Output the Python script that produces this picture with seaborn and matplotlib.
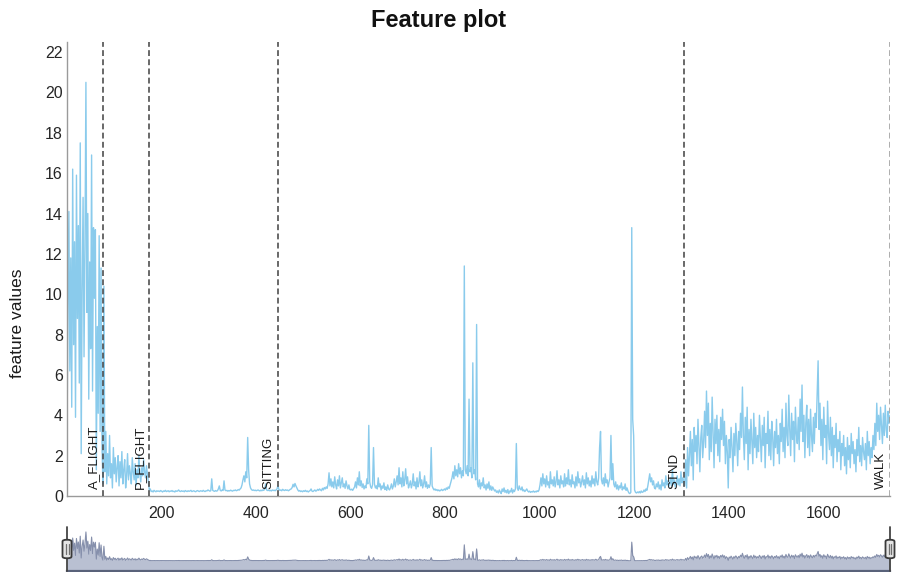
import numpy as np
import pandas as pd
import matplotlib
matplotlib.use("Agg")
import matplotlib.pyplot as plt
from matplotlib.patches import FancyBboxPatch
import seaborn as sns

# Feature values per behaviour segment (one value every second sample)
a_flight = [2.8, 9.5, 14.1, 6.2, 11.8, 4.4, 16.2, 7.5, 12.6, 3.9, 15.9, 8.8, 13.4, 5.6, 17.5, 2.1,
            10.2, 14.8, 6.9, 12.3, 20.5, 9.1, 14.0, 4.8, 11.6, 7.3, 16.9, 5.2, 13.3, 9.8, 13.2, 1.3,
            8.4, 4.1, 12.9, 3.2, 11.3, 2.4, 0.6]

p_flight = [10.4, 1.2, 3.2, 0.6, 2.1, 1.0, 3.0, 0.9, 1.6, 0.4, 2.4, 1.1, 1.9, 0.7, 1.4, 2.0, 0.5,
            1.7, 0.9, 2.2, 0.6, 1.3, 1.8, 0.4, 1.0, 2.1, 0.8, 1.5, 1.1, 0.6, 1.9, 1.2, 0.8, 1.6,
            0.5, 1.3, 0.9, 2.0, 1.1, 0.7, 1.4, 1.0, 1.8, 1.2, 0.9, 1.5, 1.1, 0.7, 0.3]

sitting = [0.35, 0.22, 0.25, 0.2, 0.28, 0.24, 0.21, 0.26, 0.23, 0.25,
           0.22, 0.27, 0.24, 0.2, 0.25, 0.23, 0.28, 0.22, 0.24, 0.26,
           0.21, 0.25, 0.23, 0.27, 0.22, 0.24, 0.2, 0.26, 0.23, 0.25,
           0.3, 0.24, 0.22, 0.26, 0.23, 0.25, 0.21, 0.27, 0.24, 0.22,
           0.26, 0.23, 0.25, 0.28, 0.22, 0.24, 0.26, 0.23, 0.21, 0.25,
           0.27, 0.24, 0.22, 0.26, 0.25, 0.23, 0.28, 0.24, 0.22, 0.26,
           0.25, 0.3, 0.27, 0.24, 0.26, 0.85, 0.28, 0.25, 0.23, 0.27,
           0.24, 0.26, 0.35, 0.5, 0.28, 0.25, 0.3, 0.27, 0.75, 0.3,
           0.26, 0.28, 0.24, 0.27, 0.25, 0.29, 0.26, 0.24, 0.28, 0.27,
           0.3, 0.26, 0.28, 0.32, 0.29, 0.35, 0.4, 0.55, 0.8, 1.0,
           0.7, 1.2, 0.9, 2.9, 1.3, 0.6, 0.4, 0.32, 0.28, 0.3,
           0.27, 0.29, 0.26, 0.28, 0.3, 0.27, 0.25, 0.29, 0.26, 0.3,
           0.28, 0.35, 0.6, 0.3, 0.27, 0.29, 0.26, 0.28, 0.25, 0.3,
           0.27, 0.29, 0.26, 0.3, 0.35, 0.5]

stnd = [0.32, 0.28, 0.3, 0.26, 0.33, 0.29, 0.27, 0.31, 0.28, 0.3,
        0.26, 0.29, 0.33, 0.35, 0.42, 0.58, 0.45, 0.62, 0.5, 0.4,
        0.3, 0.24, 0.27, 0.22, 0.25, 0.21, 0.26, 0.23, 0.28, 0.22,
        0.25, 0.2, 0.24, 0.27, 0.35, 0.24, 0.22, 0.26, 0.3, 0.24,
        0.27, 0.33, 0.28, 0.35, 0.3, 0.26, 0.38, 0.3, 0.42, 0.35,
        0.45, 0.38, 0.6, 1.15, 0.5, 0.85, 0.45, 0.7, 0.4, 0.95,
        0.55, 0.35, 0.8, 0.5, 1.0, 0.4, 0.65, 0.9, 0.45, 0.6,
        0.38, 0.75, 0.5, 0.35, 0.55, 0.32, 0.3, 0.34, 0.28, 0.36,
        0.45, 0.7, 0.4, 0.9, 0.55, 1.2, 0.5, 0.75, 0.42, 0.6,
        0.35, 0.5, 0.4, 0.85, 0.6, 3.5, 0.7, 0.45, 0.38, 0.55,
        2.4, 0.6, 0.4, 0.5, 0.35, 0.9, 0.45, 0.6, 0.3, 0.5,
        0.38, 0.65, 0.32, 0.45, 0.28, 0.55, 0.35, 0.3, 0.42, 0.6,
        0.35, 0.5, 0.85, 0.45, 0.7, 1.0, 0.55, 1.4, 0.6, 0.9,
        0.45, 1.2, 0.5, 0.8, 1.35, 0.6, 0.95, 0.4, 0.55, 0.75,
        0.4, 0.6, 1.1, 0.5, 0.7, 0.35, 0.9, 0.45, 0.65, 1.2,
        0.5, 0.8, 0.4, 0.6, 1.0, 0.45, 0.7, 0.38, 0.55, 0.42,
        0.6, 2.4, 0.5, 0.38, 0.3, 0.35, 0.28, 0.32, 0.26, 0.3,
        0.25, 0.28, 0.33, 0.27, 0.3, 0.35, 0.29, 0.4, 0.33, 0.45,
        0.38, 0.55, 0.7, 0.9, 1.2, 0.85, 1.5, 1.0, 1.3, 0.95,
        1.6, 1.1, 1.4, 0.9, 1.25, 1.0, 11.4, 1.3, 1.1, 1.5,
        1.0, 4.8, 1.2, 1.4, 0.9, 6.6, 1.1, 1.3, 0.8, 8.5,
        0.6, 0.45, 0.8, 0.35, 0.65, 0.5, 0.9, 0.4, 0.55, 0.3,
        0.6, 0.38, 0.7, 0.3, 0.5, 0.28, 0.45, 0.35, 0.25, 0.3,
        0.18, 0.25, 0.15, 0.3, 0.2, 0.12, 0.35, 0.22, 0.4, 0.18,
        0.28, 0.15, 0.32, 0.12, 0.25, 0.2, 0.38, 0.15, 0.3, 0.22,
        0.35, 2.6, 0.4, 0.28, 0.5, 0.35, 0.3, 0.45, 0.25, 0.3,
        0.22, 0.28, 0.35, 0.25, 0.2, 0.24, 0.18, 0.22, 0.2, 0.25,
        0.19, 0.23, 0.2, 0.26, 0.22, 0.3, 0.55, 0.9, 0.5, 1.1,
        0.6, 0.85, 0.45, 1.0, 0.55, 0.7, 0.4, 1.2, 0.6, 0.8,
        0.5, 0.95, 0.45, 0.7, 1.25, 0.55, 0.8, 0.4, 1.0, 0.6,
        0.75, 0.45, 1.1, 0.5, 0.9, 0.6, 1.3, 0.55, 0.8, 0.45,
        1.05, 0.6, 0.7, 0.4, 0.95, 0.5, 1.2, 0.65, 0.85, 0.45,
        0.7, 1.0, 0.55, 0.8, 0.4, 1.15, 0.6, 0.9, 0.5, 0.75,
        0.45, 1.0, 0.6, 0.85, 0.5, 1.2, 0.7, 0.55, 0.9, 2.4,
        3.2, 0.8, 0.6, 0.9, 0.5, 1.1, 0.65, 0.8, 0.45, 0.7,
        0.9, 3.0, 0.8, 1.6, 0.6, 0.45, 0.7, 0.35, 0.55, 0.3,
        0.5, 0.4, 0.65, 0.3, 0.45, 0.35, 0.6, 0.28, 0.4, 0.25,
        0.15, 0.12, 0.18, 13.3, 3.8, 3.0, 0.3, 0.18, 0.15, 0.2,
        0.16, 0.22, 0.15, 0.25, 0.18, 0.2, 0.3, 0.22, 0.35, 0.28,
        0.5, 0.8, 1.1, 0.7, 0.9, 0.55, 0.75, 0.4, 0.35, 0.6,
        0.45, 0.7, 0.35, 0.55, 0.3, 0.8, 0.5, 0.65, 0.4, 1.0,
        0.55, 0.75, 0.45, 0.6, 0.9, 0.5, 1.3, 0.6, 0.8, 0.45,
        0.7, 1.0, 0.55, 0.85, 0.5, 1.2, 0.65, 0.9, 0.7]

walk = [0.5, 1.8, 0.4, 2.4, 1.0, 2.0,
        3.2, 1.5, 2.8, 0.8, 3.4, 2.2, 3.0, 1.6, 3.8, 2.5, 1.2, 2.9, 3.5, 1.9, 2.7,
        4.2, 2.4, 5.2, 3.0, 4.6, 1.8, 3.6, 2.2, 4.9, 3.1, 1.4, 3.8, 2.6, 4.0, 2.0, 3.3, 1.7, 3.9, 2.8, 4.3,
        2.5, 3.7, 1.6, 3.0, 2.2, 0.4, 2.8, 1.9, 3.4, 2.4, 1.2, 3.1, 2.0, 3.6, 2.7, 1.5, 3.2, 2.3, 4.1, 2.9,
        5.4, 3.0, 1.8, 3.9, 2.6, 4.4, 1.3, 3.3, 2.1, 3.8, 2.7, 1.6, 4.1, 2.4, 3.4, 1.9, 3.0, 2.2, 4.0, 2.8,
        1.7, 3.5, 2.5, 3.9, 1.4, 3.1, 2.6, 4.2, 2.0, 3.3, 1.8, 3.7, 2.9, 1.5, 3.2, 2.4, 3.8, 2.1, 3.0, 1.6,
        3.6, 2.7, 4.3, 2.2, 3.4, 1.9, 4.6, 3.0, 2.5, 5.0, 3.3, 2.0, 4.1, 2.8, 3.7, 1.7, 4.4, 3.1, 2.6, 3.9,
        2.3, 4.8, 3.2, 5.5, 2.7, 4.0, 1.9, 3.6, 4.5, 2.4, 3.8, 2.0, 4.3, 3.0, 2.2, 3.9, 2.6, 4.1, 3.4, 5.0,
        6.7, 3.3, 4.6, 2.5, 3.8, 1.8, 4.4, 2.9, 3.5, 1.6, 4.7, 3.1, 2.3, 3.9, 2.0, 3.4, 1.4, 3.0, 2.4, 3.6,
        1.7, 2.8, 2.2, 3.2, 1.3, 2.6, 2.0, 3.0, 1.5, 2.4, 1.1, 2.9, 1.8, 2.5, 1.4, 3.1, 2.1, 2.7, 1.6, 2.3,
        1.2, 2.8, 2.0, 3.4, 1.7, 2.5, 1.5, 2.9, 2.2, 1.8, 2.6, 1.3, 3.2, 2.0, 2.7, 1.6, 2.4, 1.9, 3.0, 2.3,
        3.6, 2.5, 4.6, 3.2, 4.0, 2.8, 4.4, 3.5, 2.6, 4.1, 3.0, 4.5, 3.3, 2.9, 4.2, 3.6, 4.0]

segment_labels = ["A_FLIGHT", "P_FLIGHT", "SITTING", "STND", "WALK"]
segment_ends = [77.5, 175, 447, 1306, 1741]
x_ticks = [200, 400, 600, 800, 1000, 1200, 1400, 1600]
y_ticks = list(range(0, 23, 2))

values = np.array(a_flight + p_flight + sitting + stnd + walk, dtype=float)
samples = 1 + 2 * np.arange(len(values))
df = pd.DataFrame({"sample": samples, "value": values})

sns.set_theme(style="white")
plt.rcParams["font.family"] = ["Liberation Sans", "DejaVu Sans"]

W, H = 901, 572
fig = plt.figure(figsize=(W / 100, H / 100), dpi=100)

# main feature trace
ax = fig.add_axes([67 / W, 1 - 496 / H, 823 / W, 454 / H])
sns.lineplot(data=df, x="sample", y="value", ax=ax, color="#8acbec",
             linewidth=1.0, estimator=None)
ax.set_xlim(1, 1741)
ax.set_ylim(0, 22.5)
ax.set_xticks(x_ticks)
ax.set_yticks(y_ticks)
ax.tick_params(axis="both", length=0, labelsize=11.5, colors="#262626")
ax.tick_params(axis="x", pad=7)
ax.tick_params(axis="y", pad=3)
ax.set_xlabel("")
ax.set_ylabel("feature values", fontsize=12.5, color="#1a1a1a")
ax.yaxis.set_label_coords(-0.051, 0.38)
for side in ("top", "right"):
    ax.spines[side].set_visible(False)
for side in ("left", "bottom"):
    ax.spines[side].set_color("#9a9a9a")
    ax.spines[side].set_linewidth(1.0)

for i, (xe, lab) in enumerate(zip(segment_ends, segment_labels)):
    col = "#a0a0a0" if i == len(segment_ends) - 1 else "#4f4f4f"
    ax.axvline(xe, color=col, linestyle=(0, (3.5, 2)), linewidth=1.2, zorder=3)
    ax.annotate(lab, xy=(xe, 0.35), xytext=(-2.5, 0), textcoords="offset points",
                rotation=90, ha="right", va="bottom", fontsize=9.5, color="#1a1a1a",
                zorder=4)

fig.text(439 / W, 1 - 20 / H, "Feature plot", ha="center", va="center",
         fontsize=17, fontweight="bold", color="#111111")

# overview strip with range handles
ax2 = fig.add_axes([67 / W, 1 - 571 / H, 823 / W, 44 / H])
base = -7.1
ax2.fill_between(samples, values, base, color="#b9c0d2", linewidth=0)
sns.lineplot(x=samples, y=values, ax=ax2, color="#8690ac", linewidth=0.8,
             estimator=None)
ax2.set_xlim(1, 1741)
ax2.set_ylim(base, 24)
ax2.set_xticks([])
ax2.set_yticks([])
ax2.set_xlabel("")
ax2.set_ylabel("")
for side in ("top", "right", "left"):
    ax2.spines[side].set_visible(False)
ax2.spines["bottom"].set_color("#59627a")
ax2.spines["bottom"].set_linewidth(1.6)

for hx in (0.0, 1.0):
    ax2.plot([hx, hx], [0.0, 1.0], transform=ax2.transAxes, color="#444444",
             linewidth=1.3, clip_on=False, zorder=5)
    hw = 9 / 823
    box = FancyBboxPatch((hx - hw / 2, 0.29), hw, 0.42, transform=ax2.transAxes,
                         boxstyle="round,pad=0,rounding_size=0.005",
                         mutation_aspect=8,
                         facecolor="#e4e4e4", edgecolor="#3a3a3a", linewidth=1.3,
                         clip_on=False, zorder=6)
    ax2.add_patch(box)
    for dx in (-1.5 / 823, 1.5 / 823):
        ax2.plot([hx + dx, hx + dx], [0.38, 0.62], transform=ax2.transAxes,
                 color="#6f6f6f", linewidth=0.9, clip_on=False, zorder=7)

fig.savefig("out.png", dpi=100)
